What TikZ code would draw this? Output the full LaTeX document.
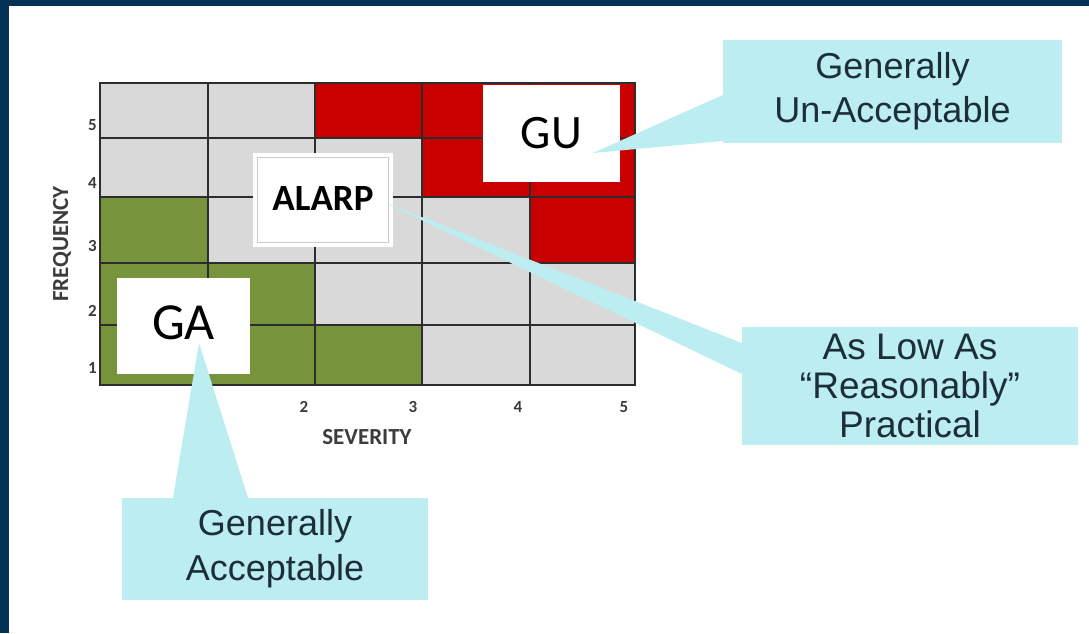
\documentclass[tikz,border=0pt]{standalone}
\usepackage{fontspec}
\setmainfont{Liberation Sans}
\newfontfamily\chartfont{Carlito}
\definecolor{navy}{RGB}{3,50,84}
\definecolor{cellgray}{RGB}{217,217,217}
\definecolor{cellred}{RGB}{200,0,0}
\definecolor{cellgreen}{RGB}{119,147,60}
\definecolor{callfill}{RGB}{187,237,241}
\definecolor{calltext}{RGB}{28,46,58}
\definecolor{gridline}{RGB}{45,45,45}
\definecolor{axistext}{RGB}{60,60,60}
\begin{document}
\begin{tikzpicture}[x=1pt,y=-1pt,
  whitebox/.style={fill=white,draw=none,inner sep=0pt},
  callbox/.style={fill=callfill,draw=none,inner sep=0pt,align=center,text=calltext},
  pointer/.style={fill=callfill,draw=none},
  axnum/.style={font=\chartfont\bfseries\fontsize{17}{19}\selectfont,text=axistext,inner sep=0pt},
  axlabel/.style={font=\chartfont\bfseries\fontsize{23}{25}\selectfont,text=axistext,inner sep=0pt},
  gridstroke/.style={draw=gridline,line width=1.8pt}]
\useasboundingbox (0,0) rectangle (1089,633);
\fill[white] (0,0) rectangle (1089,633);
\fill[navy] (0,0) rectangle (1089,6);
\fill[navy] (0,0) rectangle (9,633);

% cells
\foreach \xa/\ya/\xb/\yb/\c in {
  100/83/315/138/cellgray, 315/83/635/138/cellred,
  100/138/422/197/cellgray, 422/138/635/197/cellred,
  100/197/208/263/cellgreen, 208/197/530/263/cellgray, 530/197/635/263/cellred,
  100/263/315/325/cellgreen, 315/263/635/325/cellgray,
  100/325/422/385/cellgreen, 422/325/635/385/cellgray}
  \fill[\c] (\xa,\ya) rectangle (\xb,\yb);
% grid lines
\foreach \x in {208,315,422,530} \draw[gridstroke] (\x,83) -- (\x,385);
\foreach \y in {138,197,263,325} \draw[gridstroke] (100,\y) -- (635,\y);
\draw[gridstroke] (100,83) rectangle (635,385);

% white label boxes
\node[whitebox,minimum width=137pt,minimum height=97pt] (gubox) at (551.5,133.5) {};
\node[whitebox,minimum width=140pt,minimum height=94pt] (alarpbox) at (323,200) {};
\draw[draw=black!20,line width=0.8pt] ([shift={(5,5)}]alarpbox.north west) rectangle ([shift={(-5,-5)}]alarpbox.south east);
\node[whitebox,minimum width=133pt,minimum height=96pt] (gabox) at (183.5,326) {};

% callout boxes
\node[callbox,minimum width=339pt,minimum height=103pt,font=\fontsize{36}{44}\selectfont] (gucall) at (892.5,91.5) {Generally\\Un-Acceptable};
\node[callbox,minimum width=336pt,minimum height=118pt,font=\fontsize{37}{39}\selectfont] (alarpcall) at (910,386) {As Low As\\“Reasonably”\\Practical};
\node[callbox,minimum width=306pt,minimum height=102pt,font=\fontsize{36}{45}\selectfont] (gacall) at (275,549) {Generally\\Acceptable};

% pointer tips
\coordinate (gutip) at (593,153);
\coordinate (alarptip) at (386,203);
\coordinate (gatip) at (199,343);
\fill[pointer] (gutip) -- (gucall.west |- 0,95) -- (gucall.west |- 0,141) -- cycle;
\fill[pointer] (alarptip) -- (alarpcall.west |- 0,343) -- (alarpcall.west |- 0,374) -- cycle;
\fill[pointer] (gatip) -- (gacall.north -| 173,0) -- (gacall.north -| 248,0) -- cycle;

% box texts
\node[inner sep=0pt,font=\chartfont\fontsize{48}{50}\selectfont] (gutext) at (gubox.center) {GU};
\node[inner sep=0pt,font=\chartfont\bfseries\fontsize{37}{40}\selectfont] (alarptext) at ([yshift=2]alarpbox.center) {ALARP};
\node[inner sep=0pt,font=\chartfont\fontsize{52}{54}\selectfont] (gatext) at ([yshift=3]gabox.center) {GA};

% axis numbers
\node[axnum,anchor=east] (y5) at (97,125) {5};
\node[axnum,anchor=east] (y4) at (97,183) {4};
\node[axnum,anchor=east] (y3) at (97,246) {3};
\node[axnum,anchor=east] (y2) at (97,311) {2};
\node[axnum,anchor=east] (y1) at (97,368) {1};
\node[axnum] (x2) at (304,407) {2};
\node[axnum] (x3) at (413,407) {3};
\node[axnum] (x4) at (518,407) {4};
\node[axnum] (x5) at (624,407) {5};
\node[axlabel] (sev) at (367,437) {SEVERITY};
\node[axlabel,rotate=90] (freq) at (62,244) {FREQUENCY};
\end{tikzpicture}
\end{document}
